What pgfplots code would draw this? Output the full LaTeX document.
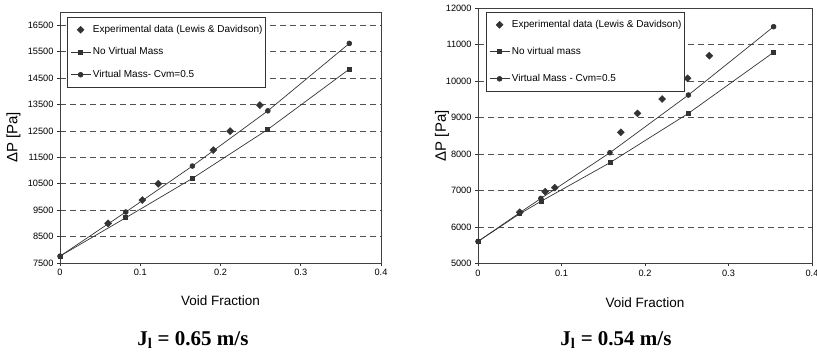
\documentclass[border=0pt]{standalone}
\usepackage{fontspec}
\setmainfont{Liberation Sans}
\newfontfamily\capfont{Liberation Serif}
\usepackage{pgfplots}
\pgfplotsset{compat=1.18}

\definecolor{mk}{HTML}{333333}
\definecolor{ln}{HTML}{353535}
\definecolor{gd}{HTML}{505050}

\pgfplotsset{
  myax/.style={
    scale only axis,
    clip mode=individual,
    xmin=0, xmax=0.4,
    xtick={0,0.1,0.2,0.3,0.4},
    xticklabels={0,0.1,0.2,0.3,0.4},
    tick align=outside, xtick pos=lower, ytick pos=left,
    major tick length=3pt,
    tick style={black!80, line width=0.6pt},
    axis line style={black!75, line width=0.7pt},
    ymajorgrids,
    grid style={gd, line width=0.6pt, dash pattern=on 6pt off 4pt},
    scaled y ticks=false,
    /pgf/number format/assume math mode=true,
    yticklabel style={/pgf/number format/fixed, /pgf/number format/1000 sep={}},
    tick label style={font=\fontsize{9.2}{11}\selectfont},
    xlabel={Void Fraction},
    ylabel={ΔP [Pa]},
    xlabel style={font=\fontsize{13.5}{15}\selectfont},
    ylabel style={font=\fontsize{15}{17}\selectfont},
    legend cell align=left,
    legend style={anchor=north west, draw=black!80, fill=white,
      font=\fontsize{10}{12}\selectfont,
      inner xsep=3pt, inner ysep=8pt, column sep=2pt,
      nodes={inner sep=0pt, text height=7pt, text depth=2pt}},
  },
  linplot/.style={color=ln, line width=0.7pt, mark options={fill=mk, draw=mk, solid},
    legend image code/.code={\draw[mark repeat=2,mark phase=2,##1] plot coordinates {(0pt,0pt) (10pt,0pt) (20pt,0pt)};}},
  expplot/.style={only marks, mark=square*, mark size=2.5pt, mark options={fill=mk, draw=mk, rotate=45},
    legend image code/.code={\draw[##1] plot coordinates {(10pt,0pt)};}},
}

\begin{document}
\begin{tikzpicture}
\path[use as bounding box] (0pt,0pt) rectangle (817pt,354pt);

\begin{axis}[myax,
  at={(60pt,91pt)}, anchor=south west,
  width=321pt, height=251pt,
  ymin=7500, ymax=17000,
  ytick={7500,8500,9500,10500,11500,12500,13500,14500,15500,16500},
  xlabel style={at={(axis description cs:0.5,-0.15)}, anchor=center},
  ylabel style={at={(axis description cs:-0.145,0.5)}, anchor=center},
  legend style={at={(0.022,0.98)}, row sep=13.5pt},
]
\addplot[expplot] coordinates {(0.060,9000) (0.1026,9883) (0.1225,10500) (0.191,11774) (0.212,12492) (0.249,13476)};
\addlegendentry{Experimental data (Lewis \& Davidson)}
\addplot[linplot, mark=square*, mark size=2pt] coordinates {(0,7760) (0.082,9213) (0.165,10703) (0.259,12557) (0.3605,14837)};
\addlegendentry{No Virtual Mass}
\addplot[linplot, mark=*, mark size=2.4pt] coordinates {(0,7760) (0.082,9430) (0.165,11170) (0.259,13260) (0.3605,15810)};
\addlegendentry{Virtual Mass- Cvm=0.5}
\node[font=\capfont\bfseries\fontsize{21}{24}\selectfont] at (axis description cs:0.414,-0.307) {J\textsubscript{l} = 0.65 m/s};
\end{axis}

\begin{axis}[myax,
  at={(478pt,90.7pt)}, anchor=south west,
  width=334pt, height=255pt,
  ymin=5000, ymax=12000,
  ytick={5000,6000,7000,8000,9000,10000,11000,12000},
  xlabel style={at={(axis description cs:0.5,-0.155)}, anchor=center},
  ylabel style={at={(axis description cs:-0.108,0.5)}, anchor=center},
  legend style={at={(0.024,0.985)}, row sep=18pt},
]
\addplot[expplot] coordinates {(0.05,6400) (0.0805,6966) (0.092,7076) (0.171,8596) (0.191,9117) (0.2205,9510) (0.251,10078) (0.277,10699)};
\addlegendentry{Experimental data (Lewis \& Davidson)}
\addplot[linplot, mark=square*, mark size=2pt] coordinates {(0,5600) (0.05,6360) (0.0753,6700) (0.158,7762) (0.252,9117) (0.354,10792)};
\addlegendentry{No virtual mass}
\addplot[linplot, mark=*, mark size=2.4pt] coordinates {(0,5600) (0.05,6390) (0.0753,6780) (0.158,8036) (0.252,9620) (0.354,11495)};
\addlegendentry{Virtual Mass - Cvm=0.5}
\node[font=\capfont\bfseries\fontsize{21}{24}\selectfont] at (axis description cs:0.413,-0.301) {J\textsubscript{l} = 0.54 m/s};
\end{axis}
\end{tikzpicture}
\end{document}
